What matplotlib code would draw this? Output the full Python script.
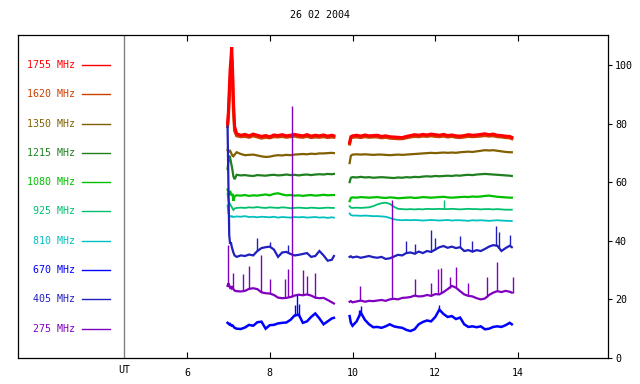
import matplotlib
matplotlib.use("Agg")
import matplotlib.pyplot as plt
import numpy as np

plt.rcParams['font.family'] = ['DejaVu Sans Mono']

title = "26 02 2004"
freqs = ["1755 MHz", "1620 MHz", "1350 MHz", "1215 MHz", "1080 MHz",
         "925 MHz", "810 MHz", "670 MHz", "405 MHz", "275 MHz"]
colors = ["#ff0000", "#cc4000", "#806000", "#208020", "#00c000",
          "#00c070", "#00c0c0", "#0000ff", "#2020c0", "#8000c0"]
legend_y = [100, 90, 80, 70, 60, 50, 40, 30, 20, 10]
xticks = [6, 8, 10, 12, 14]
yticks = [0, 20, 40, 60, 80, 100]

t1 = [6.98, 7.00, 7.02, 7.04, 7.06, 7.08, 7.10, 7.12, 7.15, 7.20, 7.3, 7.4, 7.5,
      7.6, 7.7, 7.8, 7.9, 8.0, 8.1, 8.2, 8.3, 8.4, 8.5, 8.6, 8.7, 8.8, 8.9, 9.0,
      9.1, 9.2, 9.3, 9.4, 9.5, 9.55]
t2 = [9.93, 9.96, 10.0, 10.1, 10.2, 10.3, 10.4, 10.5, 10.6, 10.7, 10.8, 10.9,
      11.0, 11.1, 11.2, 11.3, 11.4, 11.5, 11.6, 11.7, 11.8, 11.9, 12.0, 12.1,
      12.2, 12.3, 12.4, 12.5, 12.6, 12.7, 12.8, 12.9, 13.0, 13.1, 13.2, 13.3,
      13.4, 13.5, 13.6, 13.7, 13.8, 13.85]

f1755_a = [80, 84, 91, 98, 102, 106, 99, 88, 79, 76.5, 76.0, 76.3, 75.8, 76.4, 76.0,
           75.6, 75.9, 75.5, 76.1, 75.9, 76.2, 75.8, 76.0, 76.3, 76.0, 75.8, 76.2,
           75.7, 76.0, 75.8, 76.1, 75.7, 76.0, 75.8]
f1755_b = [73.5, 75.5, 75.8, 76.0, 75.7, 76.1, 75.8, 75.9, 76.0, 75.6, 75.8, 75.5,
           75.4, 75.3, 75.2, 75.6, 75.9, 76.2, 76.0, 76.3, 76.1, 76.4, 76.2, 76.0,
           76.3, 75.9, 76.1, 75.8, 75.7, 75.9, 76.2, 76.0, 76.1, 76.3, 76.5, 76.2,
           76.4, 76.0, 75.9, 75.7, 75.6, 75.3]
f1620_a = [79, 82, 88, 94, 99, 102, 96, 85, 77.5, 75.8, 75.5, 75.6, 75.3, 75.8, 75.4,
           75.0, 75.3, 75.1, 75.5, 75.4, 75.6, 75.3, 75.5, 75.7, 75.4, 75.3, 75.6,
           75.2, 75.4, 75.3, 75.5, 75.2, 75.4, 75.3]
f1620_b = [73.0, 75.0, 75.3, 75.4, 75.2, 75.5, 75.3, 75.4, 75.4, 75.1, 75.3, 75.0,
           74.9, 74.8, 74.8, 75.1, 75.4, 75.6, 75.5, 75.7, 75.6, 75.8, 75.6, 75.5,
           75.7, 75.4, 75.6, 75.3, 75.2, 75.4, 75.6, 75.5, 75.6, 75.7, 75.9, 75.7,
           75.8, 75.5, 75.4, 75.2, 75.1, 74.8]
f1350_a = [71.0, 70.8, 70.5, 70.7, 70.2, 69.5, 69.0, 68.8, 69.4, 70.2, 69.6, 69.2,
           69.3, 69.4, 69.1, 68.8, 68.6, 68.7, 69.0, 69.2, 69.1, 69.3, 69.2, 69.4,
           69.5, 69.6, 69.5, 69.7, 69.6, 69.8, 69.8, 69.9, 70.0, 69.9]
f1350_b = [66.5, 69.0, 69.4, 69.5, 69.4, 69.5, 69.4, 69.3, 69.4, 69.4, 69.3, 69.2,
           69.3, 69.4, 69.3, 69.4, 69.5, 69.6, 69.7, 69.8, 69.9, 70.0, 69.9, 70.0,
           70.1, 70.0, 70.1, 70.0, 70.2, 70.3, 70.4, 70.3, 70.5, 70.7, 70.9, 70.8,
           70.9, 70.7, 70.5, 70.3, 70.2, 70.2]
f1215_a = [64.5, 67.0, 69.0, 68.5, 67.0, 65.5, 64.0, 62.0, 61.0, 62.5, 62.3, 62.4,
           62.2, 62.1, 62.4, 62.3, 62.2, 62.4, 62.5, 62.3, 62.4, 62.6, 62.4, 62.5,
           62.3, 62.5, 62.6, 62.4, 62.6, 62.7, 62.6, 62.8, 62.7, 62.8]
f1215_b = [60.0, 61.5, 61.7, 61.6, 61.8, 61.6, 61.7, 61.5, 61.6, 61.7, 61.6, 61.5,
           61.4, 61.6, 61.5, 61.7, 61.6, 61.8, 61.7, 61.9, 62.0, 61.9, 62.1, 62.0,
           62.1, 62.2, 62.1, 62.3, 62.2, 62.4, 62.5, 62.4, 62.6, 62.7, 62.8, 62.7,
           62.6, 62.5, 62.4, 62.3, 62.2, 62.1]
f1080_a = [57.5, 56.5, 55.5, 57.0, 56.2, 55.5, 56.0, 53.6, 55.2, 55.5, 55.4, 55.6,
           55.3, 55.5, 55.4, 55.6, 55.8, 55.5, 56.0, 56.2, 55.8, 55.5, 55.6, 55.4,
           55.5, 55.3, 55.5, 55.6, 55.4, 55.5, 55.7, 55.5, 55.6, 55.6]
f1080_b = [53.5, 54.6, 54.8, 54.7, 54.9, 54.8, 54.7, 54.8, 54.9, 54.7, 54.6, 54.8,
           54.7, 54.5, 54.6, 54.7, 54.8, 54.6, 54.7, 54.9, 54.8, 54.7, 54.8, 54.9,
           55.0, 54.8, 54.7, 54.8, 54.9, 55.0, 54.9, 55.1, 55.0, 55.1, 55.3, 55.4,
           55.2, 55.0, 54.9, 54.8, 54.7, 54.7]
f925_a = [56.0, 54.0, 53.0, 52.5, 52.0, 51.5, 51.0, 50.5, 51.0, 51.2, 51.3, 51.2,
          51.4, 51.3, 51.5, 51.3, 51.2, 51.4, 51.3, 51.2, 51.4, 51.3, 51.1, 51.2,
          51.3, 51.2, 51.1, 51.3, 51.2, 51.1, 51.2, 51.3, 51.2, 51.2]
f925_b = [51.8, 51.3, 51.2, 51.3, 51.2, 51.3, 51.4, 51.8, 52.4, 52.8, 53.0, 52.6,
          51.6, 50.9, 50.8, 50.7, 50.8, 50.7, 50.8, 50.7, 50.9, 50.8, 50.8, 50.9,
          50.8, 50.8, 50.9, 50.8, 50.7, 50.8, 50.9, 50.8, 50.8, 50.7, 50.8, 50.8,
          50.7, 50.8, 50.7, 50.6, 50.6, 50.6]
f810_a = [52.0, 49.5, 48.5, 48.3, 48.4, 48.2, 48.3, 48.1, 48.2, 48.3, 48.2, 48.4,
          48.1, 48.2, 48.0, 48.2, 48.1, 48.0, 48.2, 47.9, 48.1, 48.0, 47.9, 48.1,
          48.0, 48.1, 47.9, 48.0, 48.1, 47.9, 48.0, 47.8, 48.0, 47.9]
f810_b = [49.3, 48.8, 48.6, 48.6, 48.5, 48.6, 48.5, 48.4, 48.4, 48.3, 48.2, 47.8,
          47.3, 47.1, 47.0, 47.1, 47.0, 47.1, 47.0, 46.9, 47.0, 47.1, 47.0, 46.9,
          47.0, 47.1, 46.9, 47.0, 47.0, 46.9, 46.8, 47.0, 46.9, 47.0, 46.9, 46.8,
          46.9, 47.0, 46.9, 46.8, 46.8, 46.7]
f670_a = [12.0, 11.8, 11.5, 11.6, 11.2, 11.0, 11.1, 10.8, 10.3, 10.0, 9.9, 10.4,
          11.3, 11.0, 12.2, 12.4, 10.0, 11.2, 11.3, 11.8, 12.0, 12.1, 13.0, 14.5,
          14.8, 12.0, 12.5, 14.0, 15.2, 13.5, 11.5, 12.5, 13.5, 13.7]
f670_b = [14.3, 12.0, 11.0, 12.5, 15.5, 13.0, 11.5, 10.5, 10.6, 10.3, 10.8, 11.5,
          10.8, 10.5, 10.3, 9.6, 9.2, 9.8, 11.5, 12.3, 12.8, 12.5, 14.0, 16.5,
          15.0, 14.0, 14.3, 13.3, 13.8, 11.5, 10.6, 10.8, 10.5, 10.8, 9.8, 10.0,
          10.6, 10.8, 10.6, 11.2, 12.0, 11.5]
f405_a = [79.0, 60.0, 42.0, 39.0, 39.5, 38.0, 37.0, 36.0, 35.0, 34.5, 35.0, 34.8,
          35.3, 35.0, 36.5, 37.5, 37.8, 38.0, 37.0, 34.5, 36.0, 36.2, 35.5, 35.0,
          35.2, 35.5, 35.8, 34.5, 34.8, 36.5, 35.0, 33.2, 33.5, 34.8]
f405_b = [34.5, 34.7, 34.3, 34.6, 34.2, 34.5, 34.8, 34.4, 34.2, 34.5, 33.8, 34.0,
          34.6, 35.2, 35.0, 35.8, 36.0, 35.6, 36.3, 35.8, 36.5, 36.2, 37.0, 37.8,
          38.2, 37.6, 38.0, 37.5, 37.8, 36.5, 36.8, 36.3, 36.8, 36.5, 37.2, 38.0,
          38.5, 38.3, 36.5, 37.5, 38.3, 37.8]
f275_a = [24.6, 25.5, 24.5, 24.0, 24.5, 23.8, 24.1, 23.5, 23.0, 22.8, 22.7, 22.9,
          23.6, 23.8, 23.5, 22.4, 22.1, 22.0, 21.5, 20.6, 20.4, 20.5, 20.8, 21.3,
          21.6, 21.4, 21.7, 21.3, 20.6, 20.4, 20.5, 19.8, 19.0, 18.6]
f275_b = [19.2, 19.4, 19.0, 19.3, 19.6, 19.2, 19.5, 19.4, 19.6, 19.8, 19.5, 20.0,
          20.2, 20.0, 20.5, 20.6, 20.8, 21.3, 21.0, 21.1, 21.5, 21.2, 21.8, 21.7,
          22.5, 23.5, 24.6, 24.0, 22.8, 21.7, 21.2, 21.0, 20.4, 20.0, 20.3, 21.5,
          22.3, 22.8, 22.5, 22.9, 22.6, 22.3]

# spikes (time, peak value)
sp275_t = [7.00, 7.11, 7.35, 7.51, 7.80, 8.00, 8.37, 8.45, 8.53, 8.81, 8.90, 9.10,
           10.18, 10.96, 11.50, 11.90, 12.07, 12.15, 12.35, 12.51, 12.80, 13.24,
           13.50, 13.88]
sp275_v = [38.6, 29.0, 28.5, 31.4, 35.2, 26.9, 27.0, 30.3, 86.0, 29.9, 28.0, 29.0,
           24.6, 53.9, 26.9, 25.5, 30.3, 30.7, 27.6, 30.9, 25.5, 27.6, 32.6, 27.6]
sp405_t = [7.69, 8.00, 8.45, 11.30, 11.50, 11.90, 12.00, 12.60, 12.90, 13.48,
           13.55, 13.80]
sp405_v = [41.0, 39.5, 38.5, 39.8, 39.0, 43.6, 41.0, 41.5, 40.0, 45.2, 43.0, 41.8]
sp670_t = [8.60, 8.65, 8.70, 10.15, 10.20, 12.10]
sp670_v = [18.0, 21.5, 18.5, 16.5, 17.7, 18.0]
sp925_t = [12.20]
sp925_v = [54.0]

series = [
    (f1620_a, f1620_b, colors[1], 2.2),
    (f1755_a, f1755_b, colors[0], 2.2),
    (f1350_a, f1350_b, colors[2], 1.6),
    (f1215_a, f1215_b, colors[3], 1.6),
    (f1080_a, f1080_b, colors[4], 1.6),
    (f925_a, f925_b, colors[5], 1.3),
    (f810_a, f810_b, colors[6], 1.3),
    (f670_a, f670_b, colors[7], 1.8),
    (f405_a, f405_b, colors[8], 1.6),
    (f275_a, f275_b, colors[9], 1.6),
]
spikes = [
    (sp925_t, sp925_v, f925_a, f925_b, colors[5]),
    (sp670_t, sp670_v, f670_a, f670_b, colors[7]),
    (sp405_t, sp405_v, f405_a, f405_b, colors[8]),
    (sp275_t, sp275_v, f275_a, f275_b, colors[9]),
]

fig = plt.figure(figsize=(6.4, 3.84), dpi=100)
ax = fig.add_axes([18/640, 1 - 358/384, 590/640, 323/384])
ax.set_xlim(1.915, 16.175)
ax.set_ylim(0, 110.2)

for a, b, c, lw in series:
    ax.plot(t1, a, color=c, lw=lw, solid_joinstyle='miter')
    ax.plot(t2, b, color=c, lw=lw, solid_joinstyle='miter')

for st, sv, a, b, c in spikes:
    for t, v in zip(st, sv):
        base = np.interp(t, t1, a) if t < 9.7 else np.interp(t, t2, b)
        ax.vlines(t, base, v, color=c, lw=1.0)

# legend
for lab, c, yv in zip(freqs, colors, legend_y):
    ax.text(3.293, yv, lab, color=c, ha='right', va='center', fontsize=7.2)
    ax.plot([3.46, 4.14], [yv, yv], color=c, lw=1.0)

ax.axvline(4.477, color='#808080', lw=1.0)

ax.set_xticks(xticks)
ax.set_xticklabels([str(v) for v in xticks])
ax.tick_params(axis='x', direction='in', length=4, top=True, pad=7, labelsize=7.2)
ax.yaxis.tick_right()
ax.set_yticks(yticks)
ax.set_yticklabels([str(v) for v in yticks])
ax.tick_params(axis='y', direction='out', length=3, pad=2, labelsize=7.2, left=False)
for s in ax.spines.values():
    s.set_linewidth(0.9)

import matplotlib.transforms as mtransforms
trans = mtransforms.blended_transform_factory(ax.transData, ax.transAxes)
ax.text(4.477, -12/323, "UT", transform=trans, ha='center', va='center', fontsize=7.2)

fig.text(0.5, 1 - 15/384, title, ha='center', va='center', fontsize=7.2)

fig.savefig("out.png", dpi=100)
